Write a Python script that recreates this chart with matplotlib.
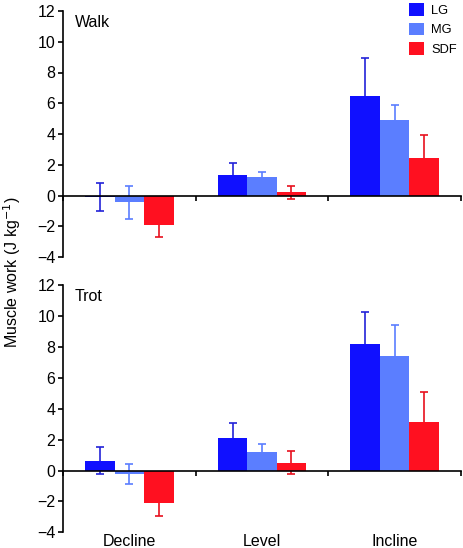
import numpy as np
import matplotlib
matplotlib.use("Agg")
from matplotlib import pyplot as plt
from matplotlib import transforms

plt.rcParams["font.family"] = ["Liberation Sans", "DejaVu Sans"]

# Data
categories = ["Decline", "Level", "Incline"]
muscles = ["LG", "MG", "SDF"]
colors = ["#1010ff", "#5b7eff", "#ff1020"]
err_colors = ["#2222d8", "#5b7eff", "#e8101e"]

walk_mean = {"LG": [-0.1, 1.35, 6.5], "MG": [-0.45, 1.2, 4.9], "SDF": [-1.9, 0.2, 2.45]}
walk_err = {"LG": [0.9, 0.76, 2.45], "MG": [1.1, 0.35, 1.0], "SDF": [0.82, 0.43, 1.5]}

trot_mean = {"LG": [0.65, 2.1, 8.2], "MG": [-0.2, 1.2, 7.45], "SDF": [-2.1, 0.5, 3.15]}
trot_err = {"LG": [0.87, 0.97, 2.05], "MG": [0.65, 0.5, 2.0], "SDF": [0.84, 0.74, 1.92]}

BAR_W = 0.222
W, H = 464, 548


def draw_panel(ax, means, errs, title):
    x = np.arange(len(categories))
    for i, m in enumerate(muscles):
        xs = x + (i - 1) * BAR_W
        ax.errorbar(xs, means[m], yerr=errs[m], fmt="none", ecolor=err_colors[i],
                    elinewidth=1.2, capsize=3.2, capthick=1.2, zorder=1)
        ax.bar(xs, means[m], width=BAR_W, color=colors[i], label=m, zorder=2)

    ax.set_xlim(-0.5, 2.5)
    ax.set_ylim(-4, 12)
    ax.set_yticks(range(-4, 13, 2))
    ax.set_yticklabels([str(v).replace("-", "\u2212") for v in range(-4, 13, 2)])
    ax.spines["top"].set_visible(False)
    ax.spines["right"].set_visible(False)
    ax.spines["bottom"].set_position(("data", 0))
    ax.spines["left"].set_linewidth(1.2)
    ax.spines["bottom"].set_linewidth(1.2)
    ax.set_xticks([-0.5, 0.5, 1.5, 2.5])
    ax.set_xticklabels([])
    ax.tick_params(axis="x", direction="out", length=3.5, width=1.2)
    ax.tick_params(axis="y", direction="out", length=3.5, width=1.2,
                   labelsize=11.5, pad=2)
    ax.text(0.03, 0.985, title, transform=ax.transAxes, fontsize=11.5,
            ha="left", va="top")


fig = plt.figure(figsize=(W / 100, H / 100), dpi=100)
left = 63 / W
width = (461 - 63) / W
ax1 = fig.add_axes([left, 1 - 257 / H, width, 246 / H])
ax2 = fig.add_axes([left, 1 - 532.3 / H, width, 247 / H])

draw_panel(ax1, walk_mean, walk_err, "Walk")
draw_panel(ax2, trot_mean, trot_err, "Trot")

tr = transforms.blended_transform_factory(ax2.transData, fig.transFigure)
for i, c in enumerate(categories):
    ax2.text(i, 1 - 546 / H, c, transform=tr,
             ha="center", va="baseline", fontsize=11.5)

fig.text(12 / W, 1 - 272 / H, "Muscle work (J kg$^{\u22121}$)", rotation=90,
         ha="center", va="center", fontsize=11.5)

ax1.legend(loc="upper left", bbox_to_anchor=(409 / W, 1 - 3 / H),
           bbox_transform=fig.transFigure, frameon=False, fontsize=9.3,
           handlelength=1.15, handleheight=1.15, handletextpad=0.55,
           labelspacing=0.45, borderpad=0, borderaxespad=0)

fig.savefig("out.png", dpi=100)
